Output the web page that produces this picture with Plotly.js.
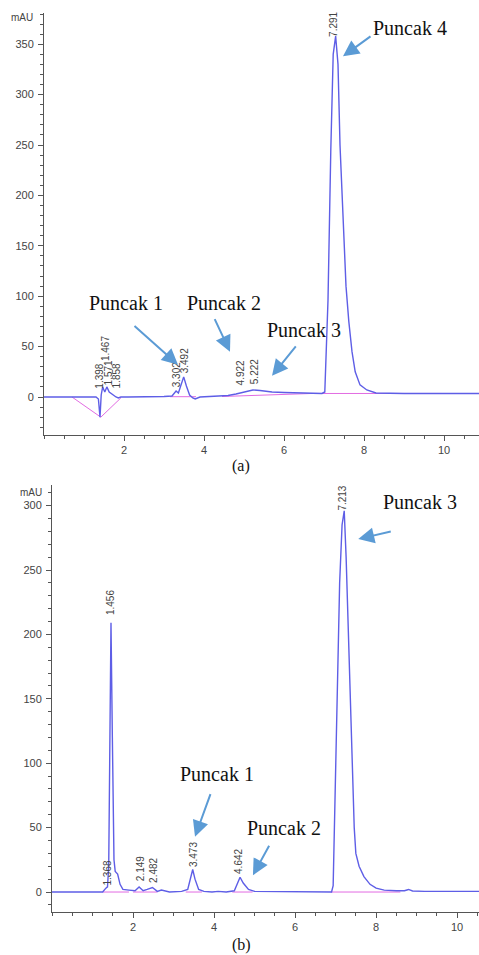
<!DOCTYPE html>
<html>
<head>
<meta charset="utf-8">
<script src="https://cdn.plot.ly/plotly-3.0.1.min.js"></script>
<style>html,body{margin:0;padding:0;background:#fff;}#chart{width:479px;height:955px;}</style>
</head>
<body>
<div id="chart"></div>
<script>
// ---------- Chromatogram (a) ----------
const timeA = [0, 0.7, 1.3, 1.36, 1.40, 1.43, 1.467, 1.52, 1.571, 1.63, 1.72, 1.8, 1.858, 1.92, 2.1, 2.5, 3.0, 3.2, 3.302, 3.36, 3.42, 3.492, 3.56, 3.64, 3.72, 3.78, 3.9, 4.3, 4.6, 4.8, 4.922, 5.05, 5.222, 5.4, 5.7, 6.0, 6.5, 6.95, 7.02, 7.1, 7.17, 7.23, 7.291, 7.35, 7.4, 7.45, 7.5, 7.55, 7.62, 7.7, 7.78, 7.9, 8.07, 8.3, 9.0, 10.875];
const signalA = [0, 0, 0, -2, -20, 2, 10, 5, 10, 5, 2, 0, -1, 0, 0, 0, 0.5, 1, 6, 4, 12, 20, 11, 2, -1, -2, 0, 0.5, 1.5, 3, 4, 5, 7, 6.5, 5, 4.5, 4, 3.5, 5, 96, 245, 340, 358, 330, 250, 200, 150, 110, 75, 45, 25, 12, 7, 4, 3.5, 3.5];
const baseTimeA = [0.7, 1.42, 1.92, null, 3.15, 3.8, null, 4.45, 6.7, 9.93];
const baseValA = [0, -20, -1, null, 0.3, 0.3, null, 0.5, 3.5, 3.5];
const peakTimesA = ["1.398", "1.467", "1.571", "1.858", "3.302", "3.492", "4.922", "5.222", "7.291"];
const peakLabelXA = [1.38, 1.52, 1.60, 1.80, 3.32, 3.50, 4.90, 5.27, 7.23];
const peakLabelYA = [7, 35, 10, 7, 9, 22, 10, 12, 356];
const calloutsA = ["Puncak 1", "Puncak 2", "Puncak 3", "Puncak 4"];

// ---------- Chromatogram (b) ----------
const timeB = [0, 1.25, 1.33, 1.37, 1.40, 1.42, 1.456, 1.49, 1.53, 1.56, 1.62, 1.68, 1.75, 1.9, 2.05, 2.15, 2.25, 2.35, 2.48, 2.6, 2.7, 2.9, 3.2, 3.35, 3.42, 3.473, 3.53, 3.62, 3.75, 3.95, 4.1, 4.3, 4.5, 4.58, 4.642, 4.72, 4.85, 5.0, 5.5, 6.0, 6.5, 6.9, 6.94, 6.98, 7.03, 7.1, 7.16, 7.213, 7.26, 7.3, 7.36, 7.42, 7.46, 7.5, 7.58, 7.7, 7.85, 8.0, 8.2, 8.5, 8.7, 8.8, 8.9, 9.2, 10.54];
const signalB = [0, 0, 3, 4, 20, 120, 209, 120, 25, 16, 14, 6, 2, 1.5, 1, 4, 1, 2, 3.5, 0.5, 1.5, 0, 0.5, 2, 10, 17.5, 10, 2, 0.5, 0, 0.5, 0, 1, 7, 11.5, 7, 2, 0.5, 0.3, 0, 0, 0, 5, 60, 150, 240, 285, 296, 260, 220, 150, 90, 50, 30, 20, 12, 6, 3, 1.5, 1, 1, 2, 0.8, 0.5, 0.5];
const baseTimeB = [1.25, 1.9, null, 2.0, 2.6, null, 3.3, 3.7, null, 4.45, 4.95, null, 6.88, 8.6];
const baseValB = [0, 0, null, 0, 0, null, 0, 0, null, 0, 0, null, 0, 0];
const peakTimesB = ["1.368", "1.456", "2.149", "2.482", "3.473", "4.642", "7.213"];
const peakLabelXB = [1.36, 1.46, 2.17, 2.52, 3.48, 4.62, 7.16];
const peakLabelYB = [4, 214, 8, 6, 19, 13, 295];
const calloutsB = ["Puncak 1", "Puncak 2", "Puncak 3"];

const captions = ["(a)", "(b)"];

const lineColor = '#5e5ee6';
const baseColor = '#e26be2';
const arrowColor = '#5b9bd5';
const axisColor = '#555';

const traces = [
  {x: baseTimeA, y: baseValA, xaxis: 'x', yaxis: 'y', mode: 'lines', line: {color: baseColor, width: 1}, connectgaps: false, hoverinfo: 'skip'},
  {x: timeA, y: signalA, xaxis: 'x', yaxis: 'y', mode: 'lines', line: {color: lineColor, width: 1.4}},
  {x: baseTimeB, y: baseValB, xaxis: 'x2', yaxis: 'y2', mode: 'lines', line: {color: baseColor, width: 1}, connectgaps: false, hoverinfo: 'skip'},
  {x: timeB, y: signalB, xaxis: 'x2', yaxis: 'y2', mode: 'lines', line: {color: lineColor, width: 1.4}}
];

const W = 479, H = 955;
const tickFont = {family: 'Liberation Sans, Arial, sans-serif', size: 11, color: '#444'};

function xAxis(domain, range, anchor) {
  return {domain: domain, range: range, anchor: anchor, showline: true, linecolor: axisColor, linewidth: 1,
    showgrid: false, zeroline: false, ticks: 'outside', ticklen: 5, tickcolor: axisColor,
    tickvals: [2, 4, 6, 8, 10], ticktext: ['2', '4', '6', '8', '10'], tickfont: tickFont,
    minor: {dtick: 0.5, tick0: 0, ticks: 'outside', ticklen: 3, tickcolor: axisColor}};
}
function yAxis(domain, range, anchor, vals) {
  return {domain: domain, range: range, anchor: anchor, showline: true, linecolor: axisColor, linewidth: 1,
    showgrid: false, zeroline: false, ticks: 'outside', ticklen: 5, tickcolor: axisColor,
    tickvals: vals, tickfont: tickFont, ticklabelstandoff: 2,
    minor: {dtick: 10, tick0: 0, ticks: 'outside', ticklen: 3, tickcolor: axisColor}};
}

const annotations = [];
// mAU labels
annotations.push({xref: 'paper', yref: 'paper', x: 22/W, y: 1 - 18/H, xanchor: 'center', yanchor: 'middle', text: 'mAU', showarrow: false, font: {family: 'Liberation Sans, Arial', size: 10, color: '#444'}});
annotations.push({xref: 'paper', yref: 'paper', x: 31/W, y: 1 - 492/H, xanchor: 'center', yanchor: 'middle', text: 'mAU', showarrow: false, font: {family: 'Liberation Sans, Arial', size: 10, color: '#444'}});
// captions
annotations.push({xref: 'paper', yref: 'paper', x: 241/W, y: 1 - 466/H, xanchor: 'center', yanchor: 'middle', text: captions[0], showarrow: false, font: {family: 'Liberation Serif, Times New Roman, serif', size: 16, color: '#111'}});
annotations.push({xref: 'paper', yref: 'paper', x: 242/W, y: 1 - 945/H, xanchor: 'center', yanchor: 'middle', text: captions[1], showarrow: false, font: {family: 'Liberation Serif, Times New Roman, serif', size: 16, color: '#111'}});

// retention-time labels
const rtFont = {family: 'Liberation Sans, Arial, sans-serif', size: 10, color: '#444'};
peakTimesA.forEach((t, i) => annotations.push({xref: 'x', yref: 'y', x: peakLabelXA[i], y: peakLabelYA[i], text: t, textangle: -90, showarrow: false, xanchor: 'center', yanchor: 'bottom', borderpad: 0, font: rtFont}));
peakTimesB.forEach((t, i) => annotations.push({xref: 'x2', yref: 'y2', x: peakLabelXB[i], y: peakLabelYB[i], text: t, textangle: -90, showarrow: false, xanchor: 'center', yanchor: 'bottom', borderpad: 0, font: rtFont}));

// callout texts
const calloutFont = {family: 'Liberation Serif, Times New Roman, serif', size: 20, color: '#111'};
const calloutPosA = [[2.05, 93], [4.5, 93], [6.5, 66], [9.15, 366]];
const calloutPosB = [[4.07, 92], [5.73, 50], [9.09, 303]];
calloutsA.forEach((t, i) => annotations.push({xref: 'x', yref: 'y', x: calloutPosA[i][0], y: calloutPosA[i][1], text: t, showarrow: false, font: calloutFont}));
calloutsB.forEach((t, i) => annotations.push({xref: 'x2', yref: 'y2', x: calloutPosB[i][0], y: calloutPosB[i][1], text: t, showarrow: false, font: calloutFont}));

// arrows: head position (data), tail offset (px)
const arrowsA = [[3.35, 32, -45, -40], [4.65, 45, -16, -34], [5.7, 21, 25, -31], [7.475, 338, 29, -21]];
const arrowsB = [[3.53, 43, 16, -44], [4.96, 13, 17, -31], [7.56, 274, 34, -8]];
arrowsA.forEach(a => annotations.push({xref: 'x', yref: 'y', x: a[0], y: a[1], ax: a[2], ay: a[3], text: '', showarrow: true, arrowhead: 2, arrowsize: 1.6, arrowwidth: 2, arrowcolor: arrowColor}));
arrowsB.forEach(a => annotations.push({xref: 'x2', yref: 'y2', x: a[0], y: a[1], ax: a[2], ay: a[3], text: '', showarrow: true, arrowhead: 2, arrowsize: 1.6, arrowwidth: 2, arrowcolor: arrowColor}));

const layout = {
  width: W, height: H, margin: {l: 0, r: 0, t: 0, b: 0},
  paper_bgcolor: '#fff', plot_bgcolor: '#fff', showlegend: false,
  xaxis: xAxis([44/W, 1], [0, 10.875], 'y'),
  yaxis: yAxis([(H - 435)/H, (H - 13)/H], [-37.7, 381], 'x', [0, 50, 100, 150, 200, 250, 300, 350]),
  xaxis2: xAxis([52/W, 1], [0, 10.54], 'y2'),
  yaxis2: yAxis([(H - 912)/H, (H - 485)/H], [-15.5, 316], 'x2', [0, 50, 100, 150, 200, 250, 300]),
  annotations: annotations
};

Plotly.newPlot('chart', traces, layout, {displayModeBar: false, staticPlot: true});
</script>
</body>
</html>
